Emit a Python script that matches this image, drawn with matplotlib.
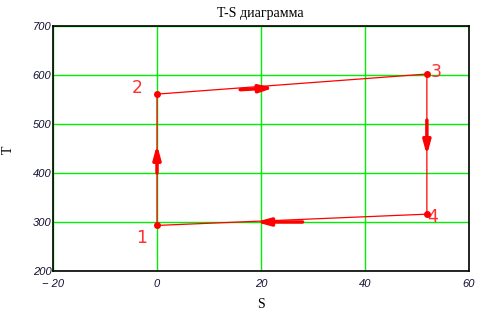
import matplotlib
matplotlib.use("Agg")
import matplotlib.pyplot as plt

# cycle points
S = [0, 0, 51.9, 51.9, 0]
T = [293, 561, 602, 316, 293]
point_labels = ["1", "2", "3", "4"]
label_dx = [-3.0, -3.8, 1.8, 1.2]
label_dy = [-25, 12, 4, -5]

# direction arrows (start S, start T, end S, end T)
arrow_s0 = [0, 16.0, 51.9, 28.0]
arrow_t0 = [400, 570, 508, 300]
arrow_s1 = [0, 22.5, 51.9, 19.0]
arrow_t1 = [458, 574, 436, 300]

xticks = [-20, 0, 20, 40, 60]
yticks = [200, 300, 400, 500, 600, 700]

fig = plt.figure(figsize=(5.01, 3.17), dpi=100)
ax = fig.add_axes([53/501, 1-271/317, 416/501, 245/317])
ax.set_xlim(-20, 60)
ax.set_ylim(200, 700)
ax.set_xticks(xticks)
ax.set_yticks(yticks)
ax.set_xticklabels(["\u2212 20", "0", "20", "40", "60"])
for lab in ax.get_xticklabels() + ax.get_yticklabels():
    lab.set_fontstyle("italic")
    lab.set_fontsize(8)
    lab.set_color("#111133")
    lab.set_family("Liberation Sans")
ax.tick_params(axis="x", length=0, pad=6)
ax.tick_params(axis="y", length=0, pad=1)
ax.grid(True, color="#00ee00", linewidth=1.0)
ax.set_axisbelow(True)
for sp in ax.spines.values():
    sp.set_linewidth(1.2)
    sp.set_color("black")

ax.plot(S, T, color="red", linewidth=0.9, zorder=3)
ax.plot(S[:4], T[:4], "o", color="red", markersize=4, zorder=4)
for i, lab in enumerate(point_labels):
    ax.text(S[i] + label_dx[i], T[i] + label_dy[i], lab, color="#ff3030",
            fontsize=12.5, family="DejaVu Sans", ha="center", va="center")

for s0, t0, s1, t1 in zip(arrow_s0, arrow_t0, arrow_s1, arrow_t1):
    ax.annotate("", xy=(s1, t1), xytext=(s0, t0),
                arrowprops=dict(arrowstyle="-|>,head_length=0.8,head_width=0.22",
                                color="red", lw=2.5, shrinkA=0, shrinkB=0),
                zorder=5)

fig.text(260/501, 1-13/317, "T-S диаграмма", ha="center", va="center",
         fontsize=10, family="Liberation Serif")
fig.text(8/501, 1-150/317, "T", ha="center", va="center", rotation=90,
         fontsize=10, family="Liberation Serif")
fig.text(261/501, 1-305/317, "S", ha="center", va="center",
         fontsize=10, family="Liberation Serif")

fig.savefig("out.png", dpi=100)
